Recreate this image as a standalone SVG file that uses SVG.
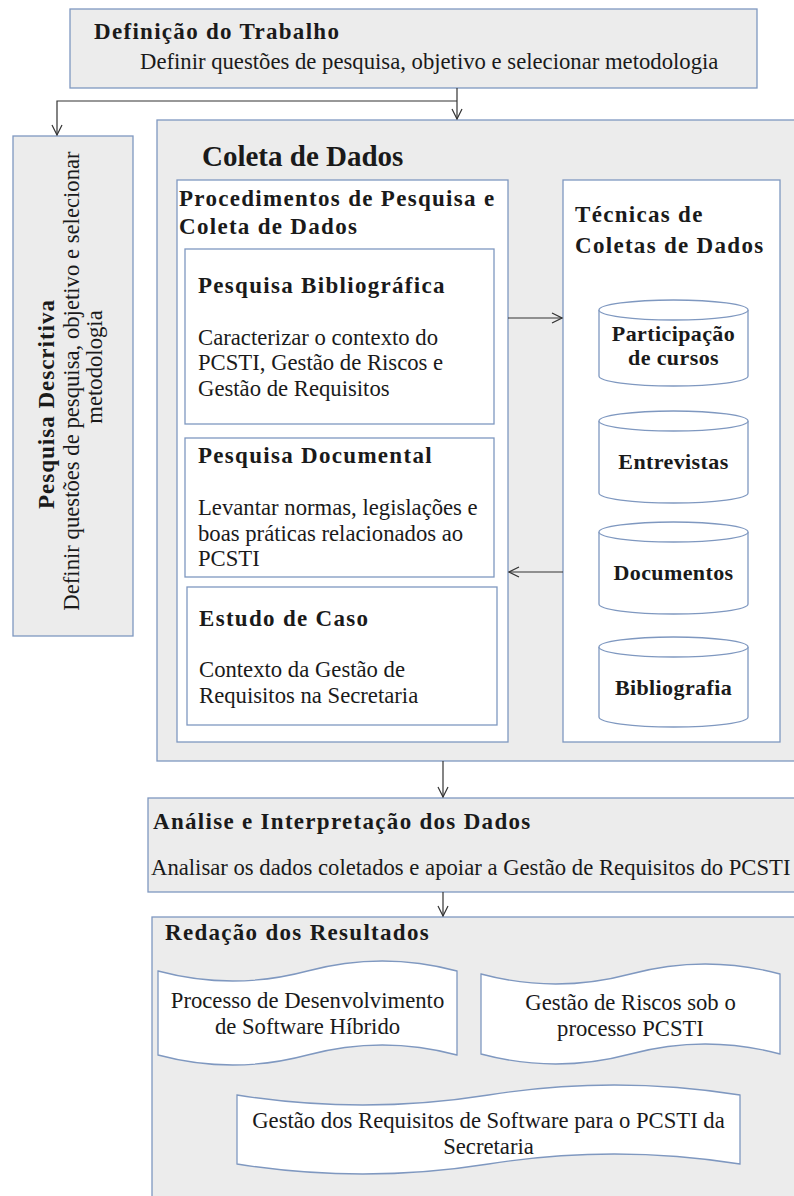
<svg xmlns="http://www.w3.org/2000/svg" width="794" height="1196" viewBox="0 0 794 1196">
<defs>
<style>
.box{fill:#ececec;stroke:#7f98c0;stroke-width:1.3}
.wbox{fill:#ffffff;stroke:#7f98c0;stroke-width:1.3}
.shape{fill:#ffffff;stroke:#7f98c0;stroke-width:1.3}
.conn{fill:none;stroke:#333333;stroke-width:1.2}
text{font-family:"Liberation Serif","Times New Roman",serif;fill:#1a1a1a}
.t{font-size:23px;font-weight:bold;letter-spacing:1.3px}
.big{font-size:29px;font-weight:bold}
.b{font-size:22.7px}
.cyl{font-size:22px;font-weight:bold;letter-spacing:0.4px}
.c{text-anchor:middle}
</style>
<marker id="arr" viewBox="0 0 12 12" refX="11" refY="6" markerWidth="12" markerHeight="12" markerUnits="userSpaceOnUse" orient="auto">
<path d="M1,1 L11,6 L1,11" fill="none" stroke="#333333" stroke-width="1.2"/>
</marker>
</defs>

<g id="definicao">
<rect class="box" x="70" y="9" width="687" height="79"/>
<text class="t" x="94" y="39">Definição do Trabalho</text>
<text class="b" x="140" y="69">Definir questões de pesquisa, objetivo e selecionar metodologia</text>
</g>

<g id="pesquisa-descritiva">
<rect class="box" x="13" y="136" width="120" height="500"/>
<text class="t c" x="54" y="404" transform="rotate(-90 54 404)" style="letter-spacing:1px">Pesquisa Descritiva</text>
<text class="b c" x="79" y="381" transform="rotate(-90 79 381)">Definir questões de pesquisa, objetivo e selecionar</text>
<text class="b c" x="102" y="367" transform="rotate(-90 102 367)">metodologia</text>
</g>

<g id="coleta">
<rect class="box" x="157" y="120" width="660" height="641"/>
<text class="big" x="202" y="166">Coleta de Dados</text>
</g>

<g id="procedimentos">
<rect class="wbox" x="177" y="180" width="331" height="562"/>
<text class="t" x="179" y="206">Procedimentos de Pesquisa e</text>
<text class="t" x="179" y="234">Coleta de Dados</text>
</g>

<g id="pesquisa-bibliografica">
<rect class="wbox" x="185" y="249" width="309" height="175"/>
<text class="t" x="198" y="293">Pesquisa Bibliográfica</text>
<text class="b" x="198" y="345">Caracterizar o contexto do</text>
<text class="b" x="198" y="370">PCSTI, Gestão de Riscos e</text>
<text class="b" x="198" y="396">Gestão de Requisitos</text>
</g>

<g id="pesquisa-documental">
<rect class="wbox" x="185" y="438" width="309" height="139"/>
<text class="t" x="198" y="463">Pesquisa Documental</text>
<text class="b" x="198" y="515">Levantar normas, legislações e</text>
<text class="b" x="198" y="541">boas práticas relacionados ao</text>
<text class="b" x="198" y="566">PCSTI</text>
</g>

<g id="estudo-de-caso">
<rect class="wbox" x="187" y="587" width="310" height="138"/>
<text class="t" x="199" y="626">Estudo de Caso</text>
<text class="b" x="199" y="677">Contexto da Gestão de</text>
<text class="b" x="199" y="703">Requisitos na Secretaria</text>
</g>

<g id="tecnicas">
<rect class="wbox" x="563" y="180" width="217" height="562"/>
<text class="t" x="575" y="222">Técnicas de</text>
<text class="t" x="575" y="253">Coletas de Dados</text>
</g>

<g id="cyl-participacao">
<path class="shape" d="M599,310 V376 A74.5,10 0 0 0 748,376 V310"/>
<ellipse class="shape" cx="673.5" cy="310" rx="74.5" ry="10"/>
<text class="cyl c" x="673.5" y="341">Participação</text>
<text class="cyl c" x="673.5" y="365">de cursos</text>
</g>

<g id="cyl-entrevistas">
<path class="shape" d="M599,421 V493 A74.5,10 0 0 0 748,493 V421"/>
<ellipse class="shape" cx="673.5" cy="421" rx="74.5" ry="10"/>
<text class="cyl c" x="673.5" y="469">Entrevistas</text>
</g>

<g id="cyl-documentos">
<path class="shape" d="M599,532 V604 A74.5,10 0 0 0 748,604 V532"/>
<ellipse class="shape" cx="673.5" cy="532" rx="74.5" ry="10"/>
<text class="cyl c" x="673.5" y="580">Documentos</text>
</g>

<g id="cyl-bibliografia">
<path class="shape" d="M599,647 V717 A74.5,10 0 0 0 748,717 V647"/>
<ellipse class="shape" cx="673.5" cy="647" rx="74.5" ry="10"/>
<text class="cyl c" x="673.5" y="695">Bibliografia</text>
</g>

<g id="analise">
<rect class="box" x="148" y="798" width="670" height="94"/>
<text class="t" x="153" y="829">Análise e Interpretação dos Dados</text>
<text class="b" x="151" y="875">Analisar os dados coletados e apoiar a Gestão de Requisitos do PCSTI</text>
</g>

<g id="redacao">
<rect class="box" x="152" y="917" width="670" height="300"/>
<text class="t" x="165" y="940">Redação dos Resultados</text>
</g>

<g id="doc-processo">
<path class="shape" d="M158,971 Q232.75,991 307.5,971 T457,971 L457,1055 Q382.25,1035 307.5,1055 T158,1055 Z"/>
<text class="b c" x="307.5" y="1008">Processo de Desenvolvimento</text>
<text class="b c" x="307.5" y="1034">de Software Híbrido</text>
</g>

<g id="doc-riscos">
<path class="shape" d="M481,974 Q555.75,994 630.5,974 T780,974 L780,1054 Q705.25,1034 630.5,1054 T481,1054 Z"/>
<text class="b c" x="630.5" y="1010">Gestão de Riscos sob o</text>
<text class="b c" x="630.5" y="1036">processo PCSTI</text>
</g>

<g id="doc-requisitos">
<path class="shape" d="M237,1095 Q362.75,1115 488.5,1095 T740,1095 L740,1164 Q614.25,1144 488.5,1164 T237,1164 Z"/>
<text class="b c" x="488.5" y="1128">Gestão dos Requisitos de Software para o PCSTI da</text>
<text class="b c" x="488.5" y="1154">Secretaria</text>
</g>

<g id="connectors">
<path class="conn" d="M457,88 V119" marker-end="url(#arr)"/>
<path class="conn" d="M457,101 H57 V135" marker-end="url(#arr)"/>
<path class="conn" d="M508,318 H562" marker-end="url(#arr)"/>
<path class="conn" d="M563,572 H509" marker-end="url(#arr)"/>
<path class="conn" d="M443,761 V797" marker-end="url(#arr)"/>
<path class="conn" d="M443,892 V916" marker-end="url(#arr)"/>
</g>
</svg>
